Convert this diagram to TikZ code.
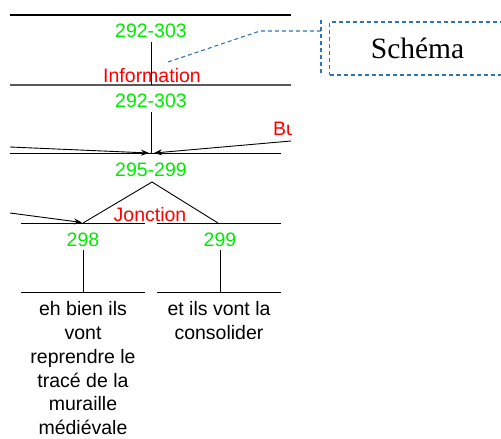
\documentclass[tikz,border=0pt]{standalone}
\usepackage{fontspec}
\setmainfont{Liberation Sans}
\newfontfamily\seriffont{Liberation Serif}
\usetikzlibrary{arrows.meta}
\definecolor{grn}{RGB}{0,235,0}
\definecolor{rd}{RGB}{255,0,0}
\definecolor{bl}{RGB}{46,117,182}
\begin{document}
\begin{tikzpicture}[x=1pt,y=-1pt,
  hline/.style={line width=0.9pt, black},
  thick line/.style={line width=1.6pt, black},
  gray line/.style={line width=1.8pt, black!65},
  vline/.style={line width=0.9pt, black},
  num/.style={text=grn, font=\fontsize{19.5}{24}\selectfont, inner sep=0, anchor=base},
  rel/.style={text=rd, font=\fontsize{19.5}{24}\selectfont, inner sep=0, anchor=base},
  seg/.style={font=\fontsize{19.5}{23.9}\selectfont, align=center, inner sep=0, anchor=north},
  arr/.style={line width=0.9pt, -{Stealth[length=8pt,width=6pt]}},
  callout/.style={bl, line width=1.1pt, dash pattern=on 4pt off 3pt}
]
\useasboundingbox (0,0) rectangle (501,439);

% horizontal lines
\draw[thick line] (10,15) -- (291,15);
\draw[gray line] (10,85) -- (291,85);
\draw[hline] (10,153.5) -- (281,153.5);
\draw[hline] (21,223) -- (145,223);
\draw[hline] (157,223) -- (281,223);
\draw[hline] (21,292) -- (145,292);
\draw[hline] (157,292) -- (281,292);

% labels
\node[num] (s1) at (151,37) {292-303};
\node[rel] (inf) at (152,82) {Information};
\node[num] (s2) at (151,107) {292-303};
\node[num] (s3) at (151,176) {295-299};
\node[rel] (jon) at (150,221) {Jonction};
\node[num] (s4) at (83,246) {298};
\node[num] (s5) at (220,246) {299};
\begin{scope}
  \clip (0,0) rectangle (291,439);
  \node[rel, anchor=base west] (but) at (273,135) {But};
\end{scope}

% named points
\coordinate (t1) at (151,42);
\coordinate (b1) at (151,85);
\coordinate (t2) at (151,112);
\coordinate (b2) at (151,153.5);
\coordinate (inL) at (10,147);
\coordinate (tipL) at (149,153);
\coordinate (inR) at (291,141);
\coordinate (tipR) at (154,153);
\coordinate (apex) at (152,182);
\coordinate (footL) at (83,223);
\coordinate (footR) at (218,223);
\coordinate (in4) at (10,213);
\coordinate (tip4) at (82,222.5);
\coordinate (t4) at (83,250);
\coordinate (b4) at (83,292);
\coordinate (t5) at (220,250);
\coordinate (b5) at (220,292);

% connectors
\draw[vline] (t1) -- (b1);
\draw[vline] (t2) -- (b2);
\draw[arr] (inL) -- (tipL);
\draw[arr] (inR) -- (tipR);
\draw[vline] (footL) -- (apex) -- (footR);
\draw[arr] (in4) -- (tip4);
\draw[vline] (t4) -- (b4);
\draw[vline] (t5) -- (b5);

% segment texts
\node[seg] (txtL) at (83,301) {eh bien ils\\vont\\reprendre le\\tracé de la\\muraille\\médiévale};
\node[seg] (txtR) at (219,301) {et ils vont la\\consolider};

% callout
\coordinate (cstart) at (168,62);
\coordinate (cbend) at (260,31);
\coordinate (bar) at (321,31);
\coordinate (barT) at (321,20);
\coordinate (barB) at (321,76);
\draw[callout] (cstart) -- (cbend) -- (bar);
\draw[callout] (barT) -- (barB);
\node[callout, draw, anchor=west, minimum width=176pt, minimum height=53pt, inner sep=0,
      font=\seriffont\fontsize{29.5}{30}\selectfont, text=black] (schema) at (329,48.5) {Schéma};
\end{tikzpicture}
\end{document}
